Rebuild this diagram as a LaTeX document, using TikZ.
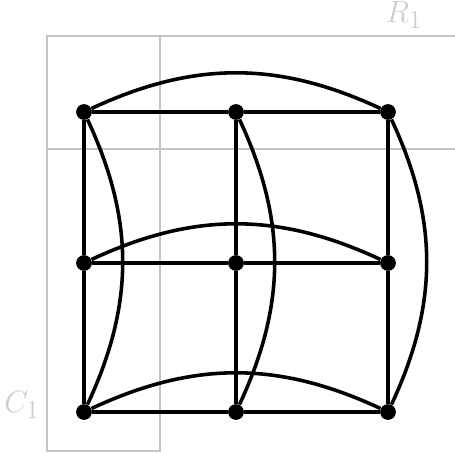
\documentclass[tikz,border=0pt]{standalone}
\definecolor{gridgray}{RGB}{196,196,196}
\definecolor{labgray}{RGB}{205,205,205}
\tikzset{
  vert/.style={circle,fill=black,inner sep=0pt,minimum size=0.31cm},
  edge/.style={line width=2pt,black},
  arc/.style={edge,bend left=25},
  region/.style={draw=gridgray,line width=1pt},
  lab/.style={text=labgray,font=\fontsize{19}{23}\selectfont}
}
\begin{document}
\begin{tikzpicture}[x=0.0197cm,y=0.0197cm]
\useasboundingbox (0,0) rectangle (455,455);
% region outlines
\draw[region] (455,419) -- (47,419) -- (47,4) -- (160,4) -- (160,419);
\draw[region] (47,306) -- (455,306);
\node[lab] (r1) at (404,440) {$R_1$};
\node[lab] (c1) at (22,50) {$C_1$};
% vertices
\node[vert] (a) at (84,343) {};
\node[vert] (b) at (236,343) {};
\node[vert] (c) at (388,343) {};
\node[vert] (d) at (84,192) {};
\node[vert] (e) at (236,192) {};
\node[vert] (f) at (388,192) {};
\node[vert] (g) at (84,43) {};
\node[vert] (h) at (236,43) {};
\node[vert] (i) at (388,43) {};
% grid edges
\draw[edge] (a) -- (b) (b) -- (c) (d) -- (e) (e) -- (f) (g) -- (h) (h) -- (i);
\draw[edge] (a) -- (d) (d) -- (g) (b) -- (e) (e) -- (h) (c) -- (f) (f) -- (i);
% curved edges
\draw[arc] (a) to (c);
\draw[arc] (d) to (f);
\draw[arc] (g) to (i);
\draw[arc] (a) to (g);
\draw[arc] (b) to (h);
\draw[arc] (c) to (i);
\end{tikzpicture}
\end{document}
